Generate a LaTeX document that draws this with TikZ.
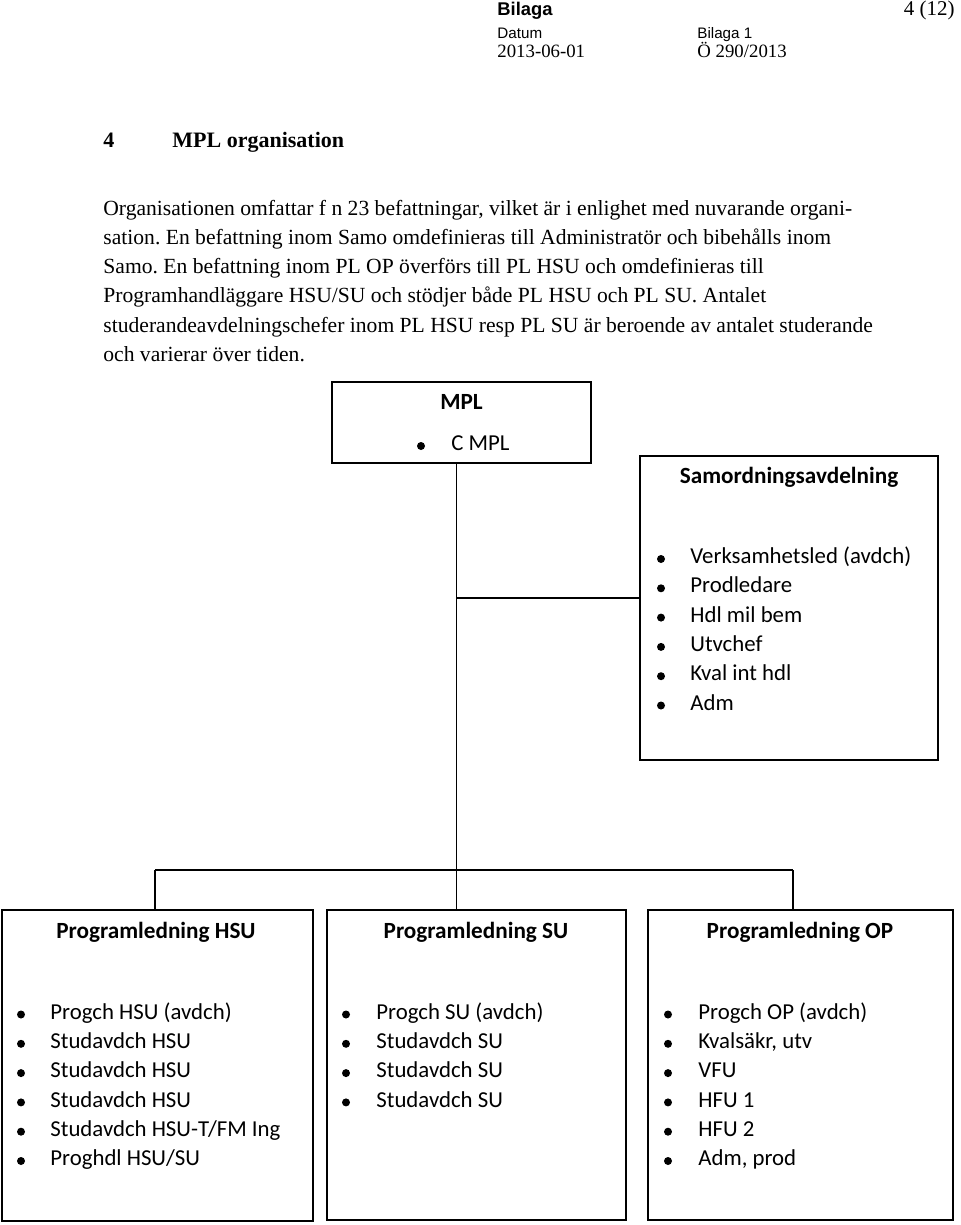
\documentclass[tikz,border=0pt]{standalone}
\usepackage{fontspec}
\setmainfont{Liberation Serif}
\newfontfamily\calibri{Carlito}
\newfontfamily\arial{Liberation Sans}
\usepackage{tikz}
\usetikzlibrary{calc}
\frenchspacing
\tikzset{
  box/.style={draw=black, line width=1pt, inner sep=0pt},
  link/.style={draw=black, line width=0.7pt},
  dot/.style={circle, fill=black, inner sep=0pt, minimum size=4pt},
  body/.style={anchor=mid west, inner sep=0pt, font=\fontsize{10.8}{13}\selectfont},
  hdr/.style={anchor=mid west, inner sep=0pt},
  ttl/.style={anchor=mid, inner sep=0pt, font=\calibri\bfseries\fontsize{11.6}{14}\selectfont},
  item/.style={anchor=mid west, inner sep=0pt, font=\calibri\fontsize{11.4}{14}\selectfont},
}
\begin{document}
\begin{tikzpicture}[x=0.5pt,y=-0.5pt]
  \useasboundingbox (0,0) rectangle (960,1225);
  % header
  \node[hdr, font=\arial\bfseries\fontsize{9.2}{11}\selectfont] (bil) at (497,11) {Bilaga};
  \node[hdr, anchor=mid east, font=\fontsize{10.5}{12}\selectfont] (page) at (955,11) {4 (12)};
  \node[hdr, font=\arial\fontsize{7.6}{9}\selectfont] (dat) at (497,34) {Datum};
  \node[hdr, font=\arial\fontsize{7.6}{9}\selectfont] (bil1) at (697,34) {Bilaga 1};
  \node[hdr, font=\fontsize{9.4}{11}\selectfont] (date) at (497,53) {2013-06-01};
  \node[hdr, font=\fontsize{9.4}{11}\selectfont] (dnr) at (697,53) {Ö 290/2013};
  % heading and text
  \node[body, font=\bfseries\fontsize{11}{13}\selectfont] (hnum) at (103,143) {4};
  \node[body, font=\bfseries\fontsize{11}{13}\selectfont] (htxt) at (172,143) {MPL organisation};
  \foreach \t [count=\i] in {
    {Organisationen omfattar f n 23 befattningar, vilket är i enlighet med nuvarande organi-},
    {sation. En befattning inom Samo omdefinieras till Administratör och bibehålls inom},
    {Samo. En befattning inom PL OP överförs till PL HSU och omdefinieras till},
    {Programhandläggare HSU/SU och stödjer både PL HSU och PL SU. Antalet},
    {studerandeavdelningschefer inom PL HSU resp PL SU är beroende av antalet studerande},
    {och varierar över tiden.}}
    \node[body] (p\i) at (103,181.5+29.2*\i) {\t};
  % boxes
  \node[box, minimum width=129.5pt, minimum height=40.5pt] (mpl) at (461.5,422.5) {};
  \node[box, minimum width=149pt, minimum height=152pt] (sam) at (789,608) {};
  \node[box, minimum width=155.5pt, minimum height=155.5pt] (hsu) at (157,1065.5) {};
  \node[box, minimum width=149.5pt, minimum height=155pt] (su) at (476.5,1065) {};
  \node[box, minimum width=152.5pt, minimum height=155pt] (op) at (800.5,1065) {};
  % MPL
  \node[ttl] (mplt) at (461.5,405) {MPL};
  \node[dot] (mpld) at (421,446) {};
  \node[item] (mpli) at (451,446) {C MPL};
  % Samordning
  \node[ttl] (samt) at (789,479) {Samordningsavdelning};
  \foreach \t [count=\i] in {Verksamhetsled (avdch), Prodledare, Hdl mil bem, Utvchef, Kval int hdl, Adm} {
    \node[dot] (sd\i) at (661,529.7+29.3*\i) {};
    \node[item] (si\i) at (690,529.7+29.3*\i) {\t};
  }
  % Programledning
  \node[ttl] (hsut) at (156,934) {Programledning HSU};
  \node[ttl] (sut) at (476,934) {Programledning SU};
  \node[ttl] (opt) at (800,934) {Programledning OP};
  \foreach \t [count=\i] in {Progch HSU (avdch), Studavdch HSU, Studavdch HSU, Studavdch HSU, Studavdch HSU-T/FM Ing, Proghdl HSU/SU} {
    \node[dot] (hd\i) at (21,985.2+29.3*\i) {};
    \node[item] (hi\i) at (50,985.2+29.3*\i) {\t};
  }
  \foreach \t [count=\i] in {Progch SU (avdch), Studavdch SU, Studavdch SU, Studavdch SU} {
    \node[dot] (ud\i) at (346,985.2+29.3*\i) {};
    \node[item] (ui\i) at (376,985.2+29.3*\i) {\t};
  }
  \foreach \t [count=\i] in {Progch OP (avdch), {Kvalsäkr, utv}, VFU, HFU 1, HFU 2, {Adm, prod}} {
    \node[dot] (od\i) at (668,985.2+29.3*\i) {};
    \node[item] (oi\i) at (698,985.2+29.3*\i) {\t};
  }
  % connectors
  \coordinate (tee) at (456.5,598);
  \coordinate (jn) at (456.5,870);
  \coordinate (jl) at (155,870);
  \coordinate (jr) at (793,870);
  \draw[link] (mpl.south -| jn) -- (jn);
  \draw[link] (tee) -- (tee -| sam.west);
  \draw[link] (jl) -- (jr);
  \draw[link] (jl) -- (jl |- hsu.north);
  \draw[link] (jn) -- (jn |- su.north);
  \draw[link] (jr) -- (jr |- op.north);
\end{tikzpicture}
\end{document}
